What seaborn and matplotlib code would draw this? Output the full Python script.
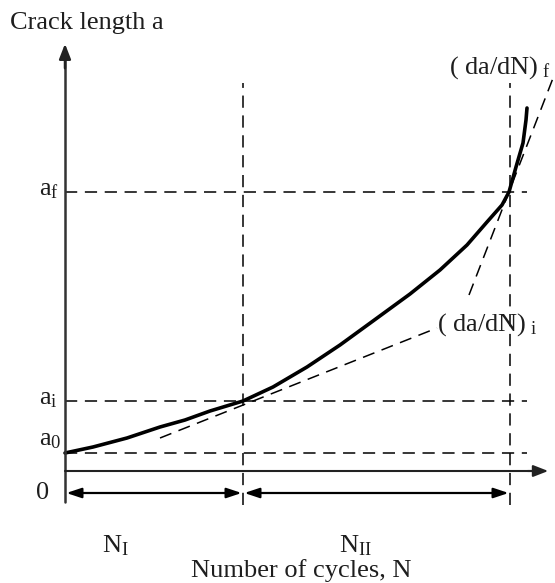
import matplotlib
matplotlib.use("Agg")
import matplotlib.pyplot as plt
import seaborn as sns
import pandas as pd

sns.set_style("white")
plt.rcParams['font.family'] = ['Liberation Serif', 'DejaVu Serif']
plt.rcParams['mathtext.fontset'] = 'custom'
plt.rcParams['mathtext.rm'] = 'Liberation Serif'
plt.rcParams['mathtext.it'] = 'Liberation Serif:italic'

# crack growth curve
cycles = [0, 28, 62, 95, 120, 145, 178, 208, 242, 275, 308, 345, 375, 402, 422, 437, 444, 451, 458, 461, 462]
crack = [18, 24, 33, 44, 51, 60, 70, 84, 104, 126, 150, 177, 201, 226, 249, 266, 279, 304, 328, 351, 363]
# tangent lines
tan_i_N = [95, 372]
tan_i_a = [33, 143]
tan_f_N = [404, 490]
tan_f_a = [176, 398]
# reference levels
a_levels = [18, 70, 279]
a_labels = [r"a$_0$", r"a$_\mathrm{i}$", r"a$_\mathrm{f}$"]
N_i, N_f = 178, 445

fig = plt.figure(figsize=(5.55, 5.83), dpi=100)
ax = fig.add_axes([0, 0, 1, 1])

dash = dict(color='black', lw=1.1, linestyle=(0, (8, 5)))

for lv in a_levels:
    ax.plot([0, 462], [lv, lv], **dash)
for nv in [N_i, N_f]:
    ax.plot([nv, nv], [-34, 388], **dash)

ax.plot(tan_i_N, tan_i_a, **dash)
ax.plot(tan_f_N, tan_f_a, **dash)

df = pd.DataFrame({'N': cycles, 'a': crack})
sns.lineplot(data=df, x='N', y='a', ax=ax, color='black', lw=2.6, sort=False)
ax.set_xlim(-65, 490)
ax.set_ylim(-112, 471)
ax.axis('off')

# axes with arrows
ax.plot([0, 0], [-31, 420], color='#333333', lw=1.8)
ax.annotate('', xy=(0, 430), xytext=(0, 400),
            arrowprops=dict(arrowstyle='-|>,head_length=0.9,head_width=0.35', color='#222222', lw=1.8))
ax.plot([0, 475], [0, 0], color='#222222', lw=1.5)
ax.annotate('', xy=(486, 0), xytext=(460, 0),
            arrowprops=dict(arrowstyle='-|>,head_length=0.9,head_width=0.35', color='#222222', lw=1.5))

# interval arrows
for x0, x1 in [(0, N_i), (N_i, N_f)]:
    ax.annotate('', xy=(x1, -22), xytext=(x0, -22),
                arrowprops=dict(arrowstyle='<|-|>,head_length=0.9,head_width=0.3',
                                color='black', lw=1.6, shrinkA=1, shrinkB=1))

fs = 19
tc = '#1e1e1e'
ax.text(-55, 448, "Crack length a", fontsize=fs, ha='left', va='center', color=tc)
for lv, lab in zip(a_levels, a_labels):
    ax.text(-26, lv + (13 if lv == 18 else 2), lab, fontsize=fs, ha='left', va='center', color=tc)
ax.text(-22, -22, "0", fontsize=fs, ha='center', va='center', color=tc)
ax.text(50, -75, r"N$_\mathrm{I}$", fontsize=fs, ha='center', va='center', color=tc)
ax.text(290, -75, r"N$_\mathrm{II}$", fontsize=fs, ha='center', va='center', color=tc)
ax.text(236, -100, "Number of cycles, N", fontsize=fs, ha='center', va='center', color=tc)
ax.text(384, 403, r"( da/dN)$_\mathrm{\ f}$", fontsize=fs, ha='left', va='center', color=tc)
ax.text(372, 146, r"( da/dN)$_\mathrm{\ i}$", fontsize=fs, ha='left', va='center', color=tc)

fig.savefig('out.png', dpi=100)
